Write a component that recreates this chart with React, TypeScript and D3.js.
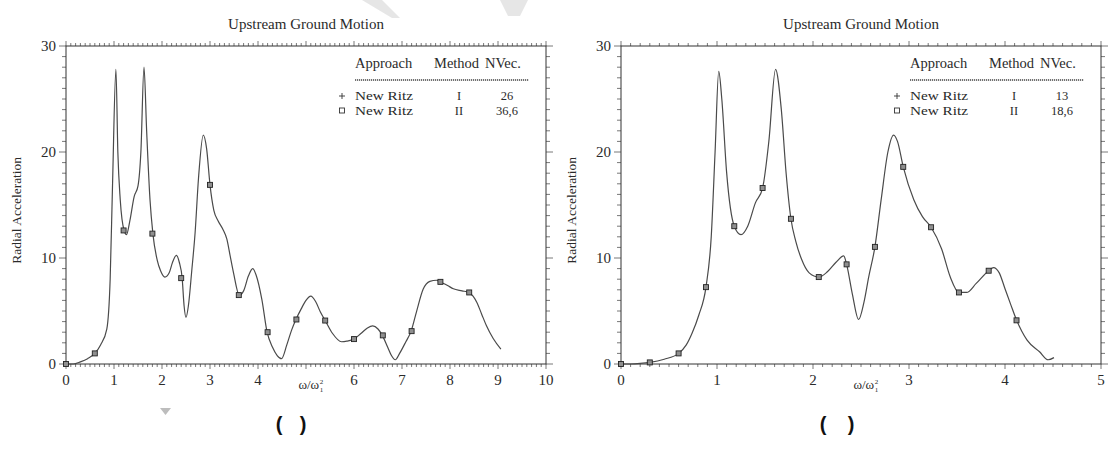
import * as d3 from 'd3';
import React from 'react';

// ---- data ----
// left panel (NVec 26 / 36,6), x = omega ratio, y = radial acceleration
const leftCurveX = [0, 0.15, 0.3, 0.45, 0.6, 0.72, 0.85, 0.92, 0.97, 1.04, 1.08, 1.13, 1.21, 1.26, 1.33, 1.42, 1.5, 1.56, 1.625, 1.68, 1.75, 1.81, 1.9, 1.97, 2.06, 2.15, 2.22, 2.3, 2.36, 2.42, 2.46, 2.5, 2.55, 2.62, 2.69, 2.76, 2.86, 2.93, 3.0, 3.08, 3.17, 3.27, 3.35, 3.42, 3.49, 3.61, 3.7, 3.8, 3.89, 3.96, 4.08, 4.19, 4.3, 4.4, 4.49, 4.6, 4.7, 4.79, 4.9, 5.0, 5.1, 5.2, 5.3, 5.4, 5.55, 5.74, 5.85, 6.0, 6.15, 6.28, 6.39, 6.5, 6.59, 6.7, 6.78, 6.86, 6.95, 7.08, 7.19, 7.3, 7.44, 7.58, 7.72, 7.79, 7.95, 8.07, 8.25, 8.39, 8.48, 8.56, 8.66, 8.76, 8.9, 9.06];
const leftCurveY = [0, 0, 0.2, 0.5, 1.0, 1.8, 3.3, 8, 17, 27.8, 20, 15.5, 12.6, 12.2, 13.5, 15.8, 16.8, 20, 28.0, 22, 15.5, 12.3, 9.8, 8.8, 8.2, 8.6, 9.6, 10.25, 9.6, 8.1, 5.5, 4.4, 5.5, 8.8, 12.4, 17.5, 21.6, 20.3, 16.9, 14.5, 13.5, 12.7, 11.8, 10.2, 8.6, 6.5, 6.9, 8.3, 9.0, 8.4, 6.1, 3.0, 1.6, 0.8, 0.5, 1.8, 3.2, 4.2, 5.2, 6.0, 6.4, 5.9, 4.9, 4.1, 2.9, 2.1, 2.15, 2.35, 2.9, 3.4, 3.6, 3.3, 2.7, 1.6, 0.8, 0.4, 1.0, 2.1, 3.1, 4.9, 7.05, 7.8, 7.9, 7.75, 7.4, 7.1, 6.9, 6.75, 6.4, 5.8, 4.7, 3.6, 2.4, 1.4];
const leftSquareX = [0, 0.6, 1.2, 1.8, 2.4, 3.0, 3.6, 4.2, 4.8, 5.4, 6.0, 6.6, 7.2, 7.8, 8.4];
const leftSquareY = [0, 1.0, 12.6, 12.3, 8.1, 16.9, 6.5, 3.0, 4.2, 4.1, 2.35, 2.7, 3.1, 7.75, 6.75];
const leftNVec = ['26', '36,6'];
const leftXTicks = [0, 1, 2, 3, 4, 6, 7, 8, 9, 10]; // "5" is covered by the axis title

// right panel (NVec 13 / 18,6)
const rightCurveX = [0, 0.1, 0.2, 0.3, 0.45, 0.6, 0.68, 0.74, 0.81, 0.885, 0.94, 0.98, 1.018, 1.05, 1.1, 1.18, 1.25, 1.32, 1.4, 1.475, 1.54, 1.61, 1.67, 1.72, 1.77, 1.82, 1.88, 1.96, 2.06, 2.15, 2.24, 2.32, 2.35, 2.41, 2.475, 2.53, 2.58, 2.645, 2.71, 2.78, 2.84, 2.88, 2.94, 3.05, 3.14, 3.23, 3.34, 3.43, 3.52, 3.6, 3.7, 3.83, 3.88, 3.94, 4.0, 4.06, 4.12, 4.23, 4.36, 4.45, 4.51];
const rightCurveY = [0, 0, 0.05, 0.15, 0.45, 1.0, 1.8, 2.9, 4.6, 7.25, 12, 20, 27.6, 25, 18.1, 13.0, 12.2, 13.0, 15.2, 16.6, 21, 27.8, 24, 18, 13.7, 11.6, 9.9, 8.6, 8.2, 8.7, 9.6, 10.2, 9.4, 6.6, 4.2, 5.8, 8.2, 11.05, 15.5, 20, 21.6, 21.0, 18.6, 15.5, 13.9, 12.9, 10.85, 8.2, 6.75, 6.75, 7.6, 8.8, 9.1, 8.6, 7.1, 5.6, 4.15, 2.25, 1.15, 0.4, 0.6];
const rightSquareX = [0, 0.3, 0.6, 0.885, 1.18, 1.475, 1.77, 2.06, 2.35, 2.645, 2.94, 3.23, 3.52, 3.83, 4.12];
const rightSquareY = [0, 0.15, 1.0, 7.25, 13.0, 16.6, 13.7, 8.2, 9.4, 11.05, 18.6, 12.9, 6.75, 8.8, 4.12];
const rightNVec = ['13', '18,6'];
const rightXTicks = [0, 1, 2, 3, 4, 5];

const legendHeader = ['Approach', 'Method', 'NVec.'];
const legendApproach = ['New Ritz', 'New Ritz'];
const legendMethod = ['I', 'II'];
const yTicks = [0, 10, 20, 30];
const title = 'Upstream Ground Motion';
const yTitle = 'Radial Acceleration';

const FONT = '"Liberation Serif", "Times New Roman", serif';
const INK = '#2a2a2a';

type PanelProps = {
  left: number;
  xMax: number;
  xTicks: number[];
  xTitleAt: number;
  curveX: number[];
  curveY: number[];
  sqX: number[];
  sqY: number[];
  nvec: string[];
  capL: number;
  capR: number;
};

function Panel({ left, xMax, xTicks, xTitleAt, curveX, curveY, sqX, sqY, nvec, capL, capR }: PanelProps) {
  const w = 480;
  const top = 46;
  const bottom = 364;
  const x = d3.scaleLinear().domain([0, xMax]).range([left, left + w]);
  const y = d3.scaleLinear().domain([0, 30]).range([bottom, top]);

  const pts: [number, number][] = curveX.map((v, i) => [v, curveY[i]]);
  const line = d3.line<[number, number]>()
    .x(d => x(d[0]))
    .y(d => y(d[1]))
    .curve(d3.curveMonotoneX);

  // tick positions
  const minorX = d3.range(0, xMax * 10 + 1).map(i => i / 10);
  const minorY = d3.range(0, 31);

  const lx = left + 289; // legend x of "Approach"
  const cx = left + w / 2;
  const rowY = [100, 114.5];

  return (
    <g>
      <text x={cx} y={29} textAnchor='middle' fontFamily={FONT} fontSize={15} fill={INK}>{title}</text>

      {/* ticks, all pointing outwards */}
      <g stroke='#555' strokeWidth={0.8}>
        {minorX.map((t, i) => {
          const isMajor = Math.abs(t - Math.round(t)) < 1e-6;
          const len = isMajor ? 5 : 3;
          return (
            <g key={'mx' + i}>
              <line x1={x(t)} x2={x(t)} y1={bottom} y2={bottom + len} />
              <line x1={x(t)} x2={x(t)} y1={top} y2={top - len} />
            </g>
          );
        })}
        {minorY.map(t => {
          const len = t % 10 === 0 ? 7 : 4;
          return (
            <g key={'my' + t}>
              <line x1={left} x2={left - len} y1={y(t)} y2={y(t)} />
              <line x1={left + w} x2={left + w + len} y1={y(t)} y2={y(t)} />
            </g>
          );
        })}
      </g>

      <rect x={left} y={top} width={w} height={bottom - top} fill='none' stroke='#333' strokeWidth={1} />

      {/* tick labels */}
      {xTicks.map(t => (
        <text key={'lx' + t} x={x(t)} y={bottom + 21} textAnchor='middle' fontFamily={FONT} fontSize={15} fill={INK}>{t}</text>
      ))}
      {yTicks.map(t => (
        <text key={'ly' + t} x={left - 10} y={y(t) + 5} textAnchor='end' fontFamily={FONT} fontSize={15} fill={INK}>{t}</text>
      ))}

      {/* axis titles */}
      <text transform={`translate(${left - 45},${y(14.5)}) rotate(-90)`} textAnchor='middle' fontFamily={FONT} fontSize={13.5} fill={INK}>{yTitle}</text>
      <text x={x(xTitleAt)} y={bottom + 25} textAnchor='middle' fontFamily={FONT} fontSize={13} fill={INK}>
        ω/ω
        <tspan dx={0.5} dy={-5} fontSize={7}>2</tspan>
        <tspan dx={-3.5} dy={8} fontSize={7}>1</tspan>
      </text>

      {/* curve */}
      <path d={line(pts) ?? ''} fill='none' stroke='#4a4a4a' strokeWidth={1.2} strokeLinejoin='round' />

      {/* square markers */}
      {sqX.map((v, i) => (
        <rect key={'sq' + i} x={x(v) - 2.5} y={y(sqY[i]) - 2.5} width={5} height={5} fill='#8f8f8f' stroke='#222' strokeWidth={0.9} />
      ))}

      {/* legend */}
      <g fontFamily={FONT} fill={INK}>
        <g fontSize={14.5}>
          <text x={lx} y={68}>{legendHeader[0]}</text>
          <text x={lx + 79} y={68}>{legendHeader[1]}</text>
          <text x={lx + 130} y={68}>{legendHeader[2]}</text>
        </g>
        <line x1={lx} x2={lx + 174} y1={80} y2={80} stroke='#444' strokeWidth={1.4} strokeDasharray='1.2 0.8' />
        <g fontSize={12.5}>
          {legendApproach.map((a, i) => (
            <g key={'lg' + i}>
              <text x={lx} y={rowY[i]} textLength={58} lengthAdjust='spacingAndGlyphs'>{a}</text>
              <text x={lx + 104} y={rowY[i]} textAnchor='middle'>{legendMethod[i]}</text>
              <text x={lx + 152} y={rowY[i]} textAnchor='middle'>{nvec[i]}</text>
            </g>
          ))}
        </g>
        <g stroke='#333' strokeWidth={0.9}>
          <line x1={lx - 16} x2={lx - 10} y1={rowY[0] - 4} y2={rowY[0] - 4} />
          <line x1={lx - 13} x2={lx - 13} y1={rowY[0] - 7} y2={rowY[0] - 1} />
          <rect x={lx - 15.5} y={rowY[1] - 6.5} width={5} height={5} fill='none' />
        </g>
      </g>

      {/* sub-figure caption */}
      <g fontFamily='"Liberation Sans", Arial, sans-serif' fontWeight='bold' fontSize={20} fill='#111' textAnchor='middle'>
        <text x={capL} y={431}>(</text>
        <text x={capR} y={431}>)</text>
      </g>
    </g>
  );
}

export default function App() {
  return (
    <svg width={1112} height={450} style={{ position: 'absolute', left: 0, top: 0, background: '#fff' }}>
      <rect width={1112} height={450} fill='#fff' />
      {/* faint watermark remnants */}
      <polygon points='362,0 382,0 400,18 392,18' fill='#e6e6e6' />
      <polygon points='500,0 528,0 520,16 508,16' fill='#e6e6e6' />
      <polygon points='160,408 171,408 165.5,415' fill='#bdbdbd' />
      <Panel left={66} xMax={10} xTicks={leftXTicks} xTitleAt={5.1} curveX={leftCurveX} curveY={leftCurveY}
        sqX={leftSquareX} sqY={leftSquareY} nvec={leftNVec} capL={279} capR={303} />
      <Panel left={621} xMax={5} xTicks={rightXTicks} xTitleAt={2.55} curveX={rightCurveX} curveY={rightCurveY}
        sqX={rightSquareX} sqY={rightSquareY} nvec={rightNVec} capL={823} capR={851} />
    </svg>
  );
}
